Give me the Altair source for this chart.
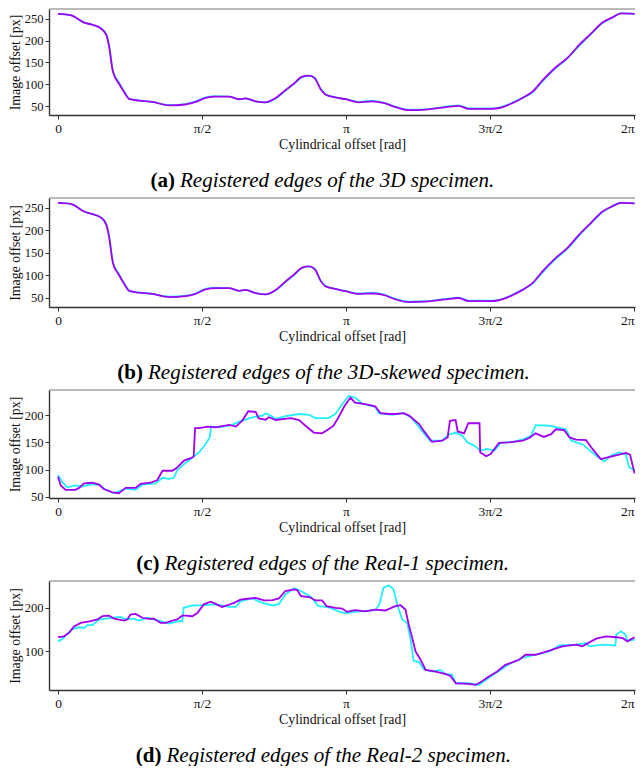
import altair as alt
import pandas as pd

PI = 3.141592653589793

# ---------------- panel (a): 3D specimen ----------------
a_x = [0, 0.138, 0.284, 0.375, 0.465, 0.527, 0.556, 0.60, 0.665, 0.72, 0.782, 0.884, 1.03, 1.21,
       1.39, 1.50, 1.61, 1.72, 1.865, 1.975, 2.047, 2.156, 2.265, 2.375, 2.484, 2.575, 2.658,
       2.738, 2.80, 2.865, 2.916, 3.025, 3.14, 3.28, 3.426, 3.55, 3.68, 3.827, 4.01, 4.23, 4.37,
       4.48, 4.70, 4.81, 4.956, 5.066, 5.175, 5.285, 5.43, 5.56, 5.69, 5.80, 5.94, 6.05, 6.14, 6.29]
a_purple = [261, 258, 241, 236, 228, 213, 188, 128, 102, 83, 66, 63, 60, 52, 54, 60, 69, 72, 72,
            66, 68, 61, 59, 69, 87, 102, 117, 120, 114, 89, 77, 70, 66, 59, 61, 57.5, 48, 41,
            42.5, 48, 51, 44, 44, 46, 57, 69, 83, 109, 139, 161, 191, 213, 241, 253, 262, 261]
a_cyan = [261, 258, 241, 236, 228, 214, 190, 130, 104, 84, 66, 63, 60, 53, 55, 61, 70, 73, 72,
          66, 68, 61, 59, 68, 86, 101, 116, 120, 115, 90, 78, 70, 66, 60, 63, 58, 49, 42,
          43, 49, 52, 45, 45, 47, 58, 69, 82, 107, 137, 160, 189, 212, 240, 253, 262, 261]

# ---------------- panel (b): 3D-skewed specimen ----------------
b_x = [0, 0.138, 0.284, 0.375, 0.465, 0.527, 0.556, 0.60, 0.665, 0.72, 0.782, 0.884, 1.03, 1.21,
       1.39, 1.50, 1.61, 1.72, 1.865, 1.975, 2.047, 2.156, 2.265, 2.375, 2.484, 2.575, 2.658,
       2.738, 2.80, 2.865, 2.916, 3.025, 3.14, 3.28, 3.426, 3.55, 3.68, 3.827, 4.01, 4.23, 4.37,
       4.48, 4.70, 4.81, 4.956, 5.066, 5.175, 5.285, 5.43, 5.56, 5.69, 5.80, 5.94, 6.05, 6.14, 6.29]
b_purple = [261, 259, 242, 236, 229, 213, 187, 127, 101, 82, 65, 62, 59, 52, 54, 59, 69, 72, 72,
            66, 68, 61, 58, 68, 87, 102, 117, 120, 114, 88, 76, 70, 65, 59, 60, 57, 47, 41,
            42, 47, 50, 43, 43, 45, 56, 68, 83, 109, 139, 162, 192, 214, 242, 254, 261, 260]
b_cyan = [261, 259, 242, 236, 229, 214, 189, 129, 103, 83, 65, 62, 59, 53, 55, 60, 70, 73, 72,
          66, 68, 61, 58, 67, 86, 101, 116, 120, 115, 89, 77, 70, 65, 60, 62, 58, 48, 42,
          43, 48, 51, 44, 44, 46, 57, 68, 82, 107, 137, 160, 190, 213, 241, 254, 261, 260]

# ---------------- panel (c): Real-1 specimen ----------------
c_px = [0, 0.03, 0.084, 0.19, 0.23, 0.284, 0.375, 0.447, 0.50, 0.593, 0.665, 0.70, 0.738, 0.847,
        0.90, 1.01, 1.084, 1.14, 1.19, 1.247, 1.30, 1.375, 1.447, 1.48, 1.495, 1.54, 1.63, 1.72,
        1.865, 1.94, 2.01, 2.076, 2.156, 2.19, 2.265, 2.30, 2.375, 2.54, 2.63, 2.70, 2.79, 2.88,
        2.95, 3.006, 3.06, 3.127, 3.19, 3.24, 3.35, 3.46, 3.517, 3.61, 3.68, 3.77, 3.83, 3.94,
        3.99, 4.08, 4.19, 4.25, 4.275, 4.337, 4.36, 4.43, 4.475, 4.598, 4.605, 4.67, 4.72, 4.81,
        4.92, 5.07, 5.14, 5.21, 5.30, 5.38, 5.43, 5.52, 5.58, 5.65, 5.76, 5.83, 5.92, 6.03, 6.12,
        6.195, 6.24, 6.29]
c_py = [87, 71, 63, 63, 66.5, 75, 76, 72.5, 64.5, 58.5, 56.7, 61.6, 66.5, 66.5,
        74, 76, 81, 98, 98, 98, 104, 116.5, 121, 124, 176, 176, 179, 177.5,
        182, 179, 190, 207, 206, 194, 191.5, 196, 191, 194.5, 191, 180.5, 168, 166.5,
        174, 180.5, 196, 217, 232, 223, 220, 216, 203.6, 202, 202, 203.6, 199, 183.5,
        171, 151, 153, 159, 189.6, 191, 170, 166.5, 185, 185, 132, 124.4, 128.6, 149,
        150, 153, 158, 166.5, 160, 165, 174, 172.6, 159, 155, 154, 138, 119.5, 124, 127.4,
        130.5, 127.4, 93]
c_cx = [0, 0.047, 0.10, 0.19, 0.265, 0.34, 0.447, 0.52, 0.61, 0.665, 0.738, 0.847, 0.92, 1.065,
        1.14, 1.21, 1.265, 1.30, 1.375, 1.447, 1.54, 1.61, 1.655, 1.67, 1.76, 1.90, 1.975, 2.12,
        2.23, 2.265, 2.32, 2.375, 2.484, 2.63, 2.738, 2.81, 2.95, 3.025, 3.10, 3.17, 3.24, 3.32,
        3.46, 3.50, 3.645, 3.77, 3.86, 3.97, 4.06, 4.19, 4.26, 4.337, 4.41, 4.465, 4.54, 4.61,
        4.68, 4.76, 4.83, 4.96, 5.08, 5.16, 5.21, 5.36, 5.54, 5.60, 5.73, 5.78, 5.87, 5.96, 6.03,
        6.12, 6.195, 6.23, 6.29]
c_cy = [90, 77, 67.6, 71, 69, 72.5, 72.5, 63, 57, 60, 65, 63, 72.5, 75,
        85, 83, 85, 99, 110, 119.5, 132, 147, 159, 179, 177.5, 182, 188, 196,
        199, 203, 199, 193, 198, 202, 200.6, 194.5, 194.5, 202, 220, 235, 232, 221,
        215, 203.6, 200.6, 203.6, 194.5, 171, 153, 153, 164, 168, 162, 150, 144, 135,
        138, 135, 149, 151, 156, 162, 181.7, 180.5, 174, 153, 145.7, 138, 125.6, 115, 125.6,
        131.7, 127.4, 104, 99]

# ---------------- panel (d): Real-2 specimen ----------------
d_px = [0, 0.065, 0.12, 0.175, 0.247, 0.356, 0.43, 0.484, 0.556, 0.61, 0.72, 0.756, 0.79, 0.847,
        0.92, 0.99, 1.047, 1.12, 1.175, 1.247, 1.30, 1.356, 1.39, 1.465, 1.52, 1.59, 1.665, 1.72,
        1.79, 1.85, 1.92, 1.99, 2.065, 2.156, 2.247, 2.34, 2.41, 2.48, 2.575, 2.61, 2.65, 2.74,
        2.81, 2.88, 2.93, 3.025, 3.10, 3.15, 3.24, 3.35, 3.46, 3.57, 3.68, 3.736, 3.79, 3.826,
        3.86, 3.90, 3.955, 4.01, 4.12, 4.23, 4.28, 4.34, 4.48, 4.555, 4.63, 4.70, 4.79, 4.88,
        5.03, 5.10, 5.21, 5.36, 5.50, 5.65, 5.72, 5.87, 5.98, 6.09, 6.16, 6.21, 6.29]
d_py = [132, 134, 142, 157, 165, 169, 173, 180.6, 182, 175, 170.5, 173, 184.5, 186,
        177, 174.4, 175, 165, 165, 170.5, 173, 182, 182, 180.6, 188, 208, 214, 209,
        202, 206, 211.6, 219, 221, 223, 217, 218, 221.7, 238.8, 242.6, 241, 227, 225,
        217, 217, 204, 200, 198.4, 190.7, 194.6, 192, 196, 193.8, 204, 206, 196, 161,
        134, 99, 80, 56.6, 52.7, 46.5, 42.6, 25.6, 24, 21.7, 31, 41, 52.7, 68,
        80, 91.5, 91.5, 100.8, 111, 114.7, 111, 128.7, 134, 132, 130, 122.5, 132]
d_cx = [0, 0.047, 0.10, 0.156, 0.23, 0.284, 0.32, 0.375, 0.447, 0.593, 0.684, 0.72, 0.83, 0.884,
        0.975, 1.12, 1.21, 1.32, 1.356, 1.37, 1.465, 1.61, 1.72, 1.865, 1.94, 1.99, 2.12, 2.23,
        2.34, 2.41, 2.48, 2.575, 2.65, 2.76, 2.84, 2.95, 3.06, 3.135, 3.28, 3.46, 3.505, 3.55,
        3.61, 3.66, 3.70, 3.755, 3.81, 3.846, 3.88, 3.94, 3.99, 4.08, 4.17, 4.23, 4.30, 4.34,
        4.48, 4.59, 4.65, 4.72, 4.81, 4.92, 5.066, 5.21, 5.36, 5.47, 5.65, 5.76, 5.795, 5.94,
        6.08, 6.09, 6.14, 6.19, 6.21, 6.29]
d_cy = [122.5, 128, 139.5, 151, 155, 153.5, 160, 160, 173, 177, 179, 174.4, 174.4, 170.5,
        177, 169, 163.6, 169, 169, 200, 205.4, 206, 207.8, 202, 202, 215.5, 221.7, 211.6,
        205.4, 209, 231, 245, 238.8, 225, 204, 201.5, 192, 187, 192, 194.6, 207.8, 246.5,
        252, 242.6, 207.8, 173, 165, 126.4, 77.5, 74.4, 58, 52.7, 56.6, 46.5, 45, 25.6,
        25.6, 21.7, 31, 41, 54, 70, 84, 91.5, 99, 113, 114.7, 118.6, 111, 114.7,
        113, 138, 145.7, 138, 124, 126.4]

# ---------------- text ----------------
x_tick_values = [0, PI / 2, PI, 3 * PI / 2, 2 * PI]
x_tick_labels = ["0", "π/2", "π", "3π/2", "2π"]
x_title = "Cylindrical offset [rad]"
y_title = "Image offset [px]"
captions = [
    ("(a)", "Registered edges of the 3D specimen."),
    ("(b)", "Registered edges of the 3D-skewed specimen."),
    ("(c)", "Registered edges of the Real-1 specimen."),
    ("(d)", "Registered edges of the Real-2 specimen."),
]

CYAN = "#22eeff"
PURPLE = "#a100f2"
FONT = "Liberation Serif"
W = 586
XDOM = [-0.0982, 6.294]

label_expr = (
    "datum.value < 0.5 ? '%s' : datum.value < 2 ? '%s' : datum.value < 4 ? '%s' : "
    "datum.value < 5 ? '%s' : '%s'" % tuple(x_tick_labels)
)


def panel(cx, cy, px, py, ydom, yticks, height, cap, split, interp):
    xscale = alt.Scale(domain=XDOM, nice=False, zero=False)
    yscale = alt.Scale(domain=ydom, nice=False, zero=False)
    xaxis = alt.Axis(values=x_tick_values, labelExpr=label_expr, title=x_title, grid=False,
                     labelFontSize=13.5, titleFontSize=13.8, labelPadding=2, titlePadding=3,
                     labelFlush=3)
    yaxis = alt.Axis(values=yticks, title=y_title, grid=False, labelFontSize=12.5,
                     titleFontSize=13.8, labelPadding=2, titlePadding=2)
    dc = pd.DataFrame({"x": cx, "y": cy})
    dp = pd.DataFrame({"x": px, "y": py})
    cyan = alt.Chart(dc).mark_line(color=CYAN, strokeWidth=1.8, clip=True,
                                   interpolate=interp).encode(
        x=alt.X("x:Q", scale=xscale, axis=xaxis),
        y=alt.Y("y:Q", scale=yscale, axis=yaxis),
    )
    purple = alt.Chart(dp).mark_line(color=PURPLE, strokeWidth=1.8, clip=True,
                                     interpolate=interp).encode(
        x=alt.X("x:Q", scale=xscale, axis=xaxis),
        y=alt.Y("y:Q", scale=yscale, axis=yaxis),
    )
    one = pd.DataFrame({"k": [0]})
    top = alt.Chart(one).mark_rule(color="#777777", strokeWidth=1).encode(
        x=alt.value(0), x2=alt.value(W), y=alt.value(0)
    )
    bold = alt.Chart(one).mark_text(font=FONT, fontSize=21, fontWeight="bold", align="right",
                                    baseline="alphabetic", color="#000").encode(
        x=alt.value(split), y=alt.value(height + 72), text=alt.value(cap[0])
    )
    ital = alt.Chart(one).mark_text(font=FONT, fontSize=21, fontStyle="italic", align="left",
                                    baseline="alphabetic", color="#000").encode(
        x=alt.value(split + 5), y=alt.value(height + 72), text=alt.value(cap[1])
    )
    return alt.layer(cyan, purple, top, bold, ital).properties(width=W, height=height)


pa = panel(a_x, a_cyan, a_x, a_purple, [30, 272], [50, 100, 150, 200, 250], 106, captions[0],
           126, "monotone")
pb = panel(b_x, b_cyan, b_x, b_purple, [30, 272], [50, 100, 150, 200, 250], 109, captions[1],
           94, "monotone")
pc = panel(c_cx, c_cy, c_px, c_py, [48, 246], [50, 100, 150, 200], 108, captions[2], 110.5,
           "linear")
pd_ = panel(d_cx, d_cy, d_px, d_py, [10, 262], [100, 200], 109, captions[3], 112.5, "linear")

chart = alt.vconcat(pa, pb, pc, pd_, spacing=83, bounds="flush").properties(
    padding={"left": 0, "top": 0, "right": 0, "bottom": 0}
).configure_view(stroke=None).configure_axis(
    domainColor="#333333", domainWidth=1.4, tickColor="#333333", tickSize=4, tickWidth=1,
    labelFont=FONT, titleFont=FONT, labelColor="#111", titleColor="#111",
    titleFontWeight="normal"
)

chart.save("out.html", embed_options={"renderer": "svg", "actions": False})
